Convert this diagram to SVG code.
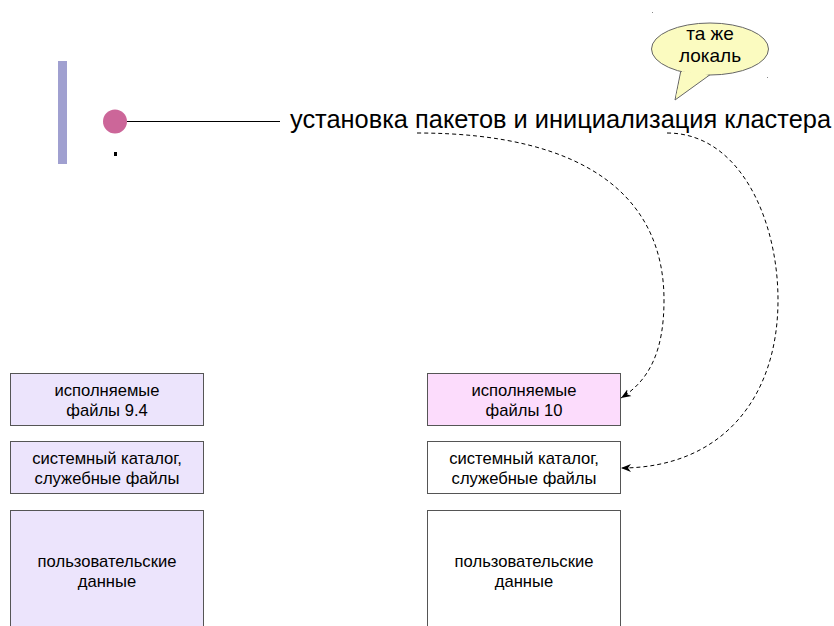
<svg xmlns="http://www.w3.org/2000/svg" width="834" height="626" viewBox="0 0 834 626">
<style>
  text { font-family: "Liberation Sans", Arial, sans-serif; fill: #000; }
  .box { stroke: #555; stroke-width: 1; }
  .lbl { font-size: 16.6px; text-anchor: middle; }
  .dash { fill: none; stroke: #000; stroke-width: 1; stroke-dasharray: 4 3; }
</style>
<defs>
  <marker id="arr" viewBox="0 0 10 10" refX="10" refY="5" markerWidth="10" markerHeight="10" markerUnits="userSpaceOnUse" orient="auto">
    <path d="M0,1 L10,5 L0,9 L3,5 z" fill="#000"/>
  </marker>
</defs>
<rect width="834" height="626" fill="#fff"/>

<g id="timeline">
  <rect x="58" y="61" width="9" height="103" fill="#a0a0d0"/>
  <circle cx="115" cy="121.5" r="12" fill="#cc6699"/>
  <line x1="127" y1="121.5" x2="280" y2="121.5" stroke="#000" stroke-width="1"/>
  <rect x="114" y="152" width="3" height="4" fill="#000"/>
</g>

<g id="title">
  <text x="290" y="128" font-size="25" textLength="541" lengthAdjust="spacingAndGlyphs">установка пакетов и инициализация кластера</text>
</g>

<g id="bubble">
  <path d="M681,70 L675,100 L711,74" fill="#fbfbc0" stroke="#666" stroke-width="1"/>
  <ellipse cx="710" cy="49" rx="58.5" ry="26" fill="#fbfbc0" stroke="#666" stroke-width="1"/>
  <path d="M682,71 L676,97 L709,74.5" fill="#fbfbc0" stroke="none"/>
  <text x="710" y="40" font-size="19" text-anchor="middle">та же</text>
  <text x="710" y="62" font-size="19" text-anchor="middle">локаль</text>
  <rect x="652" y="12" width="1" height="1" fill="#888"/>
  <rect x="767" y="77" width="1" height="1" fill="#888"/>
</g>

<g id="old-bin">
  <rect class="box" x="10.5" y="373.5" width="193" height="52" fill="#ece4fc"/>
  <text class="lbl" x="107" y="396">исполняемые</text>
  <text class="lbl" x="107" y="416">файлы 9.4</text>
</g>
<g id="old-cat">
  <rect class="box" x="10.5" y="441.5" width="193" height="52" fill="#ece4fc"/>
  <text class="lbl" x="107" y="464">системный каталог,</text>
  <text class="lbl" x="107" y="484">служебные файлы</text>
</g>
<g id="old-data">
  <rect class="box" x="10.5" y="510.5" width="193" height="130" fill="#ece4fc"/>
  <text class="lbl" x="107" y="567">пользовательские</text>
  <text class="lbl" x="107" y="587">данные</text>
</g>

<g id="new-bin">
  <rect class="box" x="427.5" y="373.5" width="193" height="52" fill="#fcdcfc"/>
  <text class="lbl" x="524" y="396">исполняемые</text>
  <text class="lbl" x="524" y="416">файлы 10</text>
</g>
<g id="new-cat">
  <rect class="box" x="427.5" y="441.5" width="193" height="52" fill="#fff"/>
  <text class="lbl" x="524" y="464">системный каталог,</text>
  <text class="lbl" x="524" y="484">служебные файлы</text>
</g>
<g id="new-data">
  <rect class="box" x="427.5" y="510.5" width="193" height="130" fill="#fff"/>
  <text class="lbl" x="524" y="567">пользовательские</text>
  <text class="lbl" x="524" y="587">данные</text>
</g>

<g id="connectors">
  <path class="dash" d="M417,133 C590,133 664,200 664,300 C664,350 650,380 621,398" marker-end="url(#arr)"/>
  <path class="dash" d="M667,133 C740,133 778,220 778,300 C778,400 720,468 621,468" marker-end="url(#arr)"/>
</g>
</svg>
